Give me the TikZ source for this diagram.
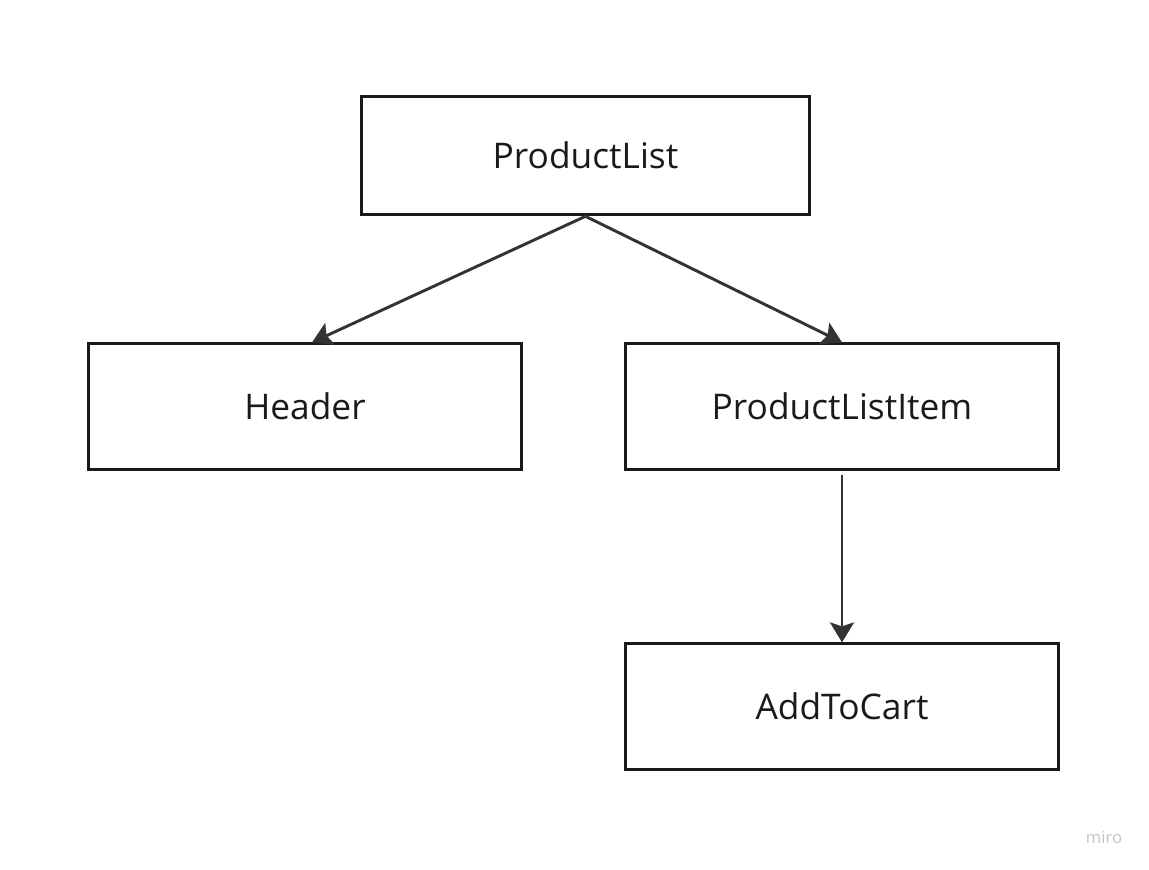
\documentclass[tikz,border=0pt]{standalone}
\usepackage{fontspec}
\setmainfont{Open Sans}
\usetikzlibrary{arrows.meta}
\definecolor{boxline}{HTML}{1A1A1A}
\definecolor{arrowline}{HTML}{333333}
\definecolor{markgray}{HTML}{C4C4C4}
\tikzset{
  comp/.style={draw=boxline, line width=2.2pt, minimum width=325pt, minimum height=94pt,
    inner sep=0pt, text=boxline, font=\fontsize{26.5}{32}\selectfont},
  link/.style={draw=arrowline, line width=2.2pt, -{Stealth[length=15pt,width=18pt,inset=3pt]}}
}
\begin{document}
\begin{tikzpicture}[x=0.75pt,y=-0.75pt]
      \useasboundingbox (0,0) rectangle (1149,869);
      \draw
        (585.5,155.5) node[comp, minimum width=336pt, minimum height=89pt] (list){ProductList}
        (305,406.5) node[comp] (header){Header}
        (842,406.5) node[comp] (item){ProductListItem}
        (842,706.5) node[comp] (cart){AddToCart};
      \node[text=markgray, font=\fontsize{12.5}{14}\selectfont] (mark) at (1104,837) {miro};
      \begin{scope}[link]
        \draw (list.south) to (header.north -| 312,0);
        \draw (list.south) to (item.north);
        \draw ([yshift=-3pt]item.south) to (cart.north);
      \end{scope}
    \end{tikzpicture}
\end{document}
